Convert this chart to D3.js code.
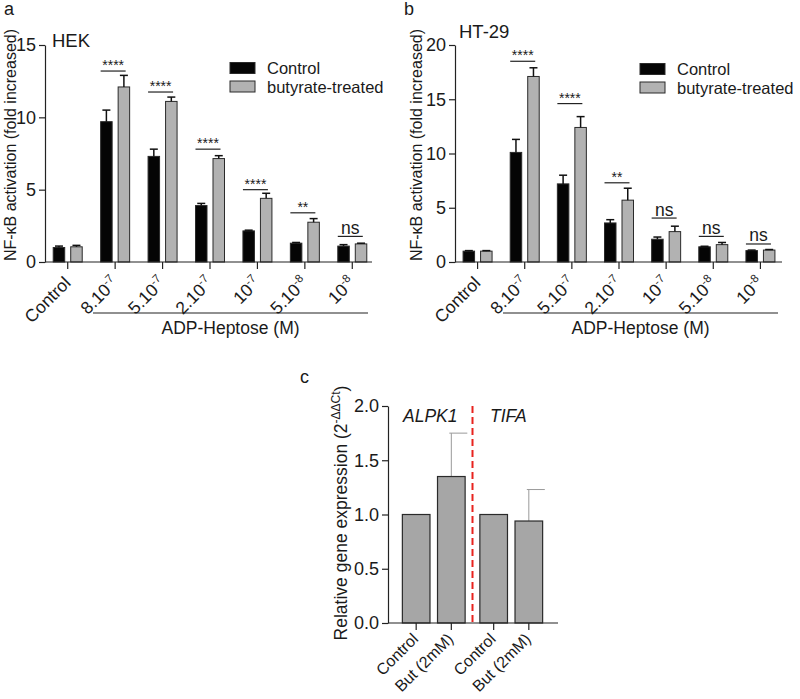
<!DOCTYPE html>
<html><head><meta charset="utf-8">
<script src="https://cdn.jsdelivr.net/npm/d3@7"></script>
<style>
body{margin:0;background:#fff}
text{font-family:"Liberation Sans",Arial,Helvetica,sans-serif;fill:#1a1a1a}
</style>
</head><body>
<svg id="chart" width="800" height="699"></svg>
<script>
// ---------- data ----------
const categories = ["Control","8.10-7","5.10-7","2.10-7","10-7","5.10-8","10-8"];
const tickBase = ["Control","8.10","5.10","2.10","10","5.10","10"];
const tickSup  = ["","-7","-7","-7","-7","-8","-8"];
const seriesNames = ["Control","butyrate-treated"];

const hekControl     = [1.0, 9.7, 7.3, 3.9, 2.15, 1.3, 1.1];
const hekControlErr  = [0.1, 0.8, 0.5, 0.15, 0.05, 0.05, 0.1];
const hekButyrate    = [1.05, 12.1, 11.1, 7.15, 4.4, 2.75, 1.25];
const hekButyrateErr = [0.1, 0.8, 0.3, 0.2, 0.35, 0.25, 0.05];
const hekSig         = ["", "****", "****", "****", "****", "**", "ns"];
const hekSigLevel    = [null, 13.2, 11.75, 7.8, 5.0, 3.4, 1.77];

const htControl      = [1.0, 10.1, 7.2, 3.6, 2.1, 1.4, 1.05];
const htControlErr   = [0.05, 1.2, 0.8, 0.3, 0.2, 0.05, 0.05];
const htButyrate     = [1.0, 17.1, 12.4, 5.7, 2.8, 1.6, 1.1];
const htButyrateErr  = [0.05, 0.8, 1.0, 1.1, 0.5, 0.2, 0.05];
const htSig          = ["", "****", "****", "**", "ns", "ns", "ns"];
const htSigLevel     = [null, 18.5, 14.6, 7.3, 4.05, 2.36, 1.66];

const hekTicks = [0, 5, 10, 15];
const htTicks  = [0, 5, 10, 15, 20];

const geneGroups = ["ALPK1", "TIFA"];
const geneConds  = ["Control", "But (2mM)"];
const alpk1Values = [1.0, 1.35];
const alpk1Err    = [0, 0.40];
const tifaValues  = [1.0, 0.94];
const tifaErr     = [0, 0.29];
const geneTicks   = [0, 0.5, 1.0, 1.5, 2.0];

// ---------- drawing ----------
const svg = d3.select("#chart");
const BLACK = "#050505", GREY = "#b2b2b2", EDGE = "#2a2a2a";

function barPanel(o) {
  const g = svg.append("g");
  const y = d3.scaleLinear().domain(o.yDomain).range([262, 45]);
  const x = d3.scaleBand().domain(categories).range(o.xRange).padding(0);
  const sub = d3.scaleBand().domain(seriesNames).range([-14.5, 14.5]).paddingInner(0.343);
  const rows = categories.map((c, i) => ({c, i, vals: [
    {s: seriesNames[0], v: o.ctrl[i], e: o.ctrlErr[i]},
    {s: seriesNames[1], v: o.but[i], e: o.butErr[i]}]}));

  // y axis
  const ya = g.append("g").attr("transform", `translate(${o.xAxis},0)`)
    .call(d3.axisLeft(y).tickValues(o.ticks).tickSize(6).tickPadding(3).tickSizeOuter(0));
  ya.select(".domain").attr("stroke", "#222").attr("stroke-width", 1.2);
  ya.selectAll(".tick line").attr("stroke", "#222").attr("stroke-width", 1.2);
  ya.selectAll(".tick text").style("font-size", "18px").attr("fill", "#1a1a1a");

  // bars
  const grp = g.selectAll(".grp").data(rows).join("g")
    .attr("transform", d => `translate(${x(d.c) + x.bandwidth() / 2},0)`);
  grp.selectAll("rect").data(d => d.vals).join("rect")
    .attr("x", d => sub(d.s)).attr("width", sub.bandwidth())
    .attr("y", d => y(d.v)).attr("height", d => y(0) - y(d.v))
    .attr("fill", d => d.s === seriesNames[0] ? BLACK : GREY)
    .attr("stroke", EDGE).attr("stroke-width", 1);
  // error bars
  const eb = grp.selectAll(".eb").data(d => d.vals).join("g").attr("class", "eb");
  eb.append("line")
    .attr("x1", d => sub(d.s) + sub.bandwidth() / 2).attr("x2", d => sub(d.s) + sub.bandwidth() / 2)
    .attr("y1", d => y(d.v)).attr("y2", d => y(d.v + d.e))
    .attr("stroke", "#111").attr("stroke-width", 1.5);
  eb.append("line")
    .attr("x1", d => sub(d.s) + sub.bandwidth() / 2 - 4).attr("x2", d => sub(d.s) + sub.bandwidth() / 2 + 4)
    .attr("y1", d => y(d.v + d.e)).attr("y2", d => y(d.v + d.e))
    .attr("stroke", "#111").attr("stroke-width", 1.5);

  // significance
  const sg = grp.filter(d => o.sigLevel[d.i] !== null);
  sg.append("line")
    .attr("x1", -14.5).attr("x2", 10.5)
    .attr("y1", d => y(o.sigLevel[d.i])).attr("y2", d => y(o.sigLevel[d.i]))
    .attr("stroke", "#222").attr("stroke-width", 1.2);
  sg.append("text").attr("text-anchor", "middle").attr("x", -2)
    .attr("y", d => y(o.sigLevel[d.i]) - (o.sig[d.i] === "ns" ? 2.5 : 1))
    .style("font-size", d => o.sig[d.i] === "ns" ? "17.5px" : "14px")
    .text(d => o.sig[d.i]);

  // x axis
  g.append("line").attr("x1", o.xAxis).attr("x2", o.xEnd).attr("y1", y(0)).attr("y2", y(0))
    .attr("stroke", "#222").attr("stroke-width", 1.2);
  const xa = g.append("g").attr("transform", `translate(0,${y(0)})`)
    .call(d3.axisBottom(x).tickSize(7).tickSizeOuter(0).tickFormat(""));
  xa.select(".domain").remove();
  xa.selectAll(".tick line").attr("stroke", "#222").attr("stroke-width", 1.2);
  const lab = g.selectAll(".xl").data(categories).join("text")
    .attr("text-anchor", "end")
    .attr("transform", c => `translate(${x(c) + x.bandwidth() / 2 + 4},${y(0) + 22}) rotate(-45)`)
    .style("font-size", "17.5px");
  lab.append("tspan").text((c, i) => tickBase[i]);
  lab.append("tspan").attr("dy", -7).style("font-size", "11.5px").text((c, i) => tickSup[i]);

  // ADP-Heptose bracket
  g.append("line").attr("x1", o.brX0).attr("x2", o.brX1).attr("y1", 313).attr("y2", 313)
    .attr("stroke", "#222").attr("stroke-width", 1.2);
  g.append("text").attr("x", (o.brX0 + o.brX1) / 2).attr("y", 334).attr("text-anchor", "middle")
    .style("font-size", "17.5px").text("ADP-Heptose (M)");

  // y title
  g.append("text").attr("text-anchor", "middle")
    .attr("transform", `translate(${o.yTitleX},145) rotate(-90)`).style("font-size", "16px")
    .text("NF-\u03BAB activation (fold increased)");

  // cell line label, panel letter
  g.append("text").attr("x", o.cellX).attr("y", o.cellY).style("font-size", "18.5px").text(o.cell);
  g.append("text").attr("x", o.letterX).attr("y", 15).style("font-size", "18px").text(o.letter);

  // legend
  const lg = g.append("g").attr("transform", `translate(${o.legX},${o.legY})`);
  seriesNames.forEach((s, i) => {
    lg.append("rect").attr("x", 0).attr("y", i * 18.5).attr("width", 25).attr("height", 11)
      .attr("fill", i === 0 ? BLACK : GREY).attr("stroke", EDGE).attr("stroke-width", 1);
    lg.append("text").attr("x", 37).attr("y", i * 18.5 + 11.5).style("font-size", "16.5px").text(s);
  });
}

barPanel({xAxis: 45, xEnd: 372, xRange: [44, 376], yDomain: [0, 15], ticks: hekTicks,
  ctrl: hekControl, ctrlErr: hekControlErr, but: hekButyrate, butErr: hekButyrateErr,
  sig: hekSig, sigLevel: hekSigLevel, brX0: 93, brX1: 368, yTitleX: 16,
  cell: "HEK", cellX: 52, cellY: 47, letter: "a", letterX: 4, legX: 230, legY: 62.5});

barPanel({xAxis: 455, xEnd: 782, xRange: [454, 784], yDomain: [0, 20], ticks: htTicks,
  ctrl: htControl, ctrlErr: htControlErr, but: htButyrate, butErr: htButyrateErr,
  sig: htSig, sigLevel: htSigLevel, brX0: 503, brX1: 778, yTitleX: 422,
  cell: "HT-29", cellX: 459, cellY: 38, letter: "b", letterX: 404, legX: 640, legY: 63.5});

// ---------- panel c ----------
(function () {
  const g = svg.append("g");
  const y = d3.scaleLinear().domain([0, 2]).range([623, 406]);
  const outer = d3.scaleBand().domain(geneGroups).range([395, 550]).paddingInner(0.19).paddingOuter(0.095);
  const inner = d3.scaleBand().domain(geneConds).range([0, outer.bandwidth()]).paddingInner(0.214);
  const vals = [alpk1Values, tifaValues], errs = [alpk1Err, tifaErr];
  const items = [];
  geneGroups.forEach((gg, gi) => geneConds.forEach((cc, ci) =>
    items.push({gg, cc, v: vals[gi][ci], e: errs[gi][ci]})));
  const cx = d => outer(d.gg) + inner(d.cc) + inner.bandwidth() / 2;

  const ya = g.append("g").attr("transform", "translate(388,0)")
    .call(d3.axisLeft(y).tickValues(geneTicks).tickFormat(d3.format(".1f")).tickSize(6).tickPadding(3).tickSizeOuter(0));
  ya.select(".domain").attr("stroke", "#222").attr("stroke-width", 1.2);
  ya.selectAll(".tick line").attr("stroke", "#222").attr("stroke-width", 1.2);
  ya.selectAll(".tick text").style("font-size", "18px").attr("fill", "#1a1a1a");

  // error bars (behind bars), cap to the right like the reference
  const eb = g.selectAll(".eb").data(items.filter(d => d.e > 0)).join("g");
  eb.append("line").attr("x1", cx).attr("x2", cx).attr("y1", d => y(d.v)).attr("y2", d => y(d.v + d.e))
    .attr("stroke", "#9a9a9a").attr("stroke-width", 1);
  eb.append("line").attr("x1", d => cx(d) - 2).attr("x2", d => cx(d) + 16)
    .attr("y1", d => y(d.v + d.e)).attr("y2", d => y(d.v + d.e))
    .attr("stroke", "#9a9a9a").attr("stroke-width", 1);

  g.selectAll(".bar").data(items).join("rect")
    .attr("x", d => outer(d.gg) + inner(d.cc)).attr("width", inner.bandwidth())
    .attr("y", d => y(d.v)).attr("height", d => y(0) - y(d.v))
    .attr("fill", "#a6a6a6").attr("stroke", "#2a2a2a").attr("stroke-width", 1.2);

  // x axis
  g.append("line").attr("x1", 388).attr("x2", 558).attr("y1", y(0)).attr("y2", y(0))
    .attr("stroke", "#222").attr("stroke-width", 1.2);
  g.selectAll(".xt").data(items).join("line")
    .attr("x1", cx).attr("x2", cx).attr("y1", y(0)).attr("y2", y(0) + 7)
    .attr("stroke", "#222").attr("stroke-width", 1.2);
  g.selectAll(".xl").data(items).join("text").attr("text-anchor", "end")
    .attr("transform", d => `translate(${cx(d) + 3},${y(0) + 17}) rotate(-45)`)
    .style("font-size", "16px").text(d => d.cc);

  // red dashed separator
  const sepX = (outer(geneGroups[0]) + outer.bandwidth() + outer(geneGroups[1])) / 2;
  g.append("line").attr("x1", sepX).attr("x2", sepX).attr("y1", y(2)).attr("y2", y(0))
    .attr("stroke", "#e8231e").attr("stroke-width", 2).attr("stroke-dasharray", "7,4");

  // gene labels
  g.append("text").attr("x", 403).attr("y", 422).style("font-size", "17.5px").style("font-style", "italic").text(geneGroups[0]);
  g.append("text").attr("x", 490).attr("y", 422).style("font-size", "17.5px").style("font-style", "italic").text(geneGroups[1]);

  // y title
  const yt = g.append("text").attr("text-anchor", "middle")
    .attr("transform", "translate(347,513) rotate(-90)").style("font-size", "17.5px");
  yt.append("tspan").text("Relative gene expression (2");
  yt.append("tspan").attr("dy", -7).style("font-size", "12px").text("-\u0394\u0394Ct");
  yt.append("tspan").attr("dy", 7).text(")");

  g.append("text").attr("x", 300).attr("y", 383).style("font-size", "18px").text("c");
})();
</script>
</body></html>
